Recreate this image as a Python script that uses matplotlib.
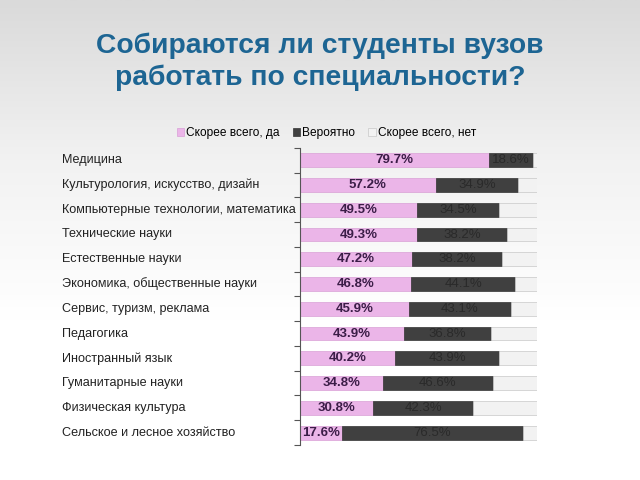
import numpy as np
import matplotlib.pyplot as plt
from matplotlib.transforms import blended_transform_factory

plt.rcParams['font.family'] = ['Liberation Sans', 'DejaVu Sans']

categories = ['Медицина', 'Культурология, искусство, дизайн',
              'Компьютерные технологии, математика', 'Технические науки',
              'Естественные науки', 'Экономика, общественные науки',
              'Сервис, туризм, реклама', 'Педагогика', 'Иностранный язык',
              'Гуманитарные науки', 'Физическая культура',
              'Сельское и лесное хозяйство']
yes = [79.7, 57.2, 49.5, 49.3, 47.2, 46.8, 45.9, 43.9, 40.2, 34.8, 30.8, 17.6]
maybe = [18.6, 34.9, 34.5, 38.2, 38.2, 44.1, 43.1, 36.8, 43.9, 46.6, 42.3, 76.5]
no = [100 - a - b for a, b in zip(yes, maybe)]
series_names = ['Скорее всего, да', 'Вероятно', 'Скорее всего, нет']

fig = plt.figure(figsize=(6.4, 4.8), dpi=100)

# light gradient background
bg = fig.add_axes([0, 0, 1, 1], zorder=-1)
grad = np.linspace(0, 1, 256).reshape(-1, 1)
bg.imshow(grad, aspect='auto', cmap=plt.matplotlib.colors.LinearSegmentedColormap.from_list(
    'bg', ['#dadada', '#f2f2f2', '#ffffff', '#ffffff']), extent=[0, 1, 0, 1], origin='upper')
bg.axis('off')

fig.text(0.5, 0.872, 'Собираются ли студенты вузов\nработать по специальности?',
         ha='center', va='center', fontsize=20.3, fontweight='bold',
         color='#1d6593', linespacing=1.27)

ax = fig.add_axes([0.469, 0.073, 0.370, 0.619])
y = np.arange(len(categories))
h = 0.56
b1 = ax.barh(y, yes, height=h, color='#ebb5e8', edgecolor='#d9a0d6', linewidth=0.5,
             label=series_names[0])
b2 = ax.barh(y, maybe, left=yes, height=h, color='#404040', edgecolor='#333333',
             linewidth=0.5, label=series_names[1])
b3 = ax.barh(y, no, left=np.array(yes) + np.array(maybe), height=h, color='#f2f2f2',
             edgecolor='#c8c8c8', linewidth=0.5, label=series_names[2])

for i in range(len(categories)):
    ax.text(yes[i] / 2, y[i], f'{yes[i]}%', ha='center', va='center',
            fontsize=9.5, fontweight='bold', color='#3b1d47')
    ax.text(yes[i] + maybe[i] / 2, y[i], f'{maybe[i]}%', ha='center', va='center',
            fontsize=9.5, color='#2a2a2a')

ax.set_xlim(0, 100)
ax.set_ylim(len(categories) - 0.5, -0.5)
ax.set_yticks([])
ax.set_yticks(np.arange(-0.5, len(categories)), minor=True)
ax.tick_params(axis='y', which='minor', length=4, width=0.8, color='#555555')
ax.set_xticks([])
for s in ['top', 'right', 'bottom']:
    ax.spines[s].set_visible(False)
ax.spines['left'].set_color('#555555')
ax.patch.set_alpha(0)

trans = blended_transform_factory(fig.transFigure, ax.transData)
for i, c in enumerate(categories):
    ax.text(0.097, y[i], c, transform=trans, ha='left', va='center',
            fontsize=9.1, color='#222222')

fig.legend(handles=[b1, b2, b3], labels=series_names, loc='center',
           bbox_to_anchor=(0.51, 0.722), ncol=3, frameon=False, fontsize=8.6,
           handlelength=0.6, handleheight=0.6, handletextpad=0.2, columnspacing=1.1)

fig.savefig('out.png', dpi=100)
